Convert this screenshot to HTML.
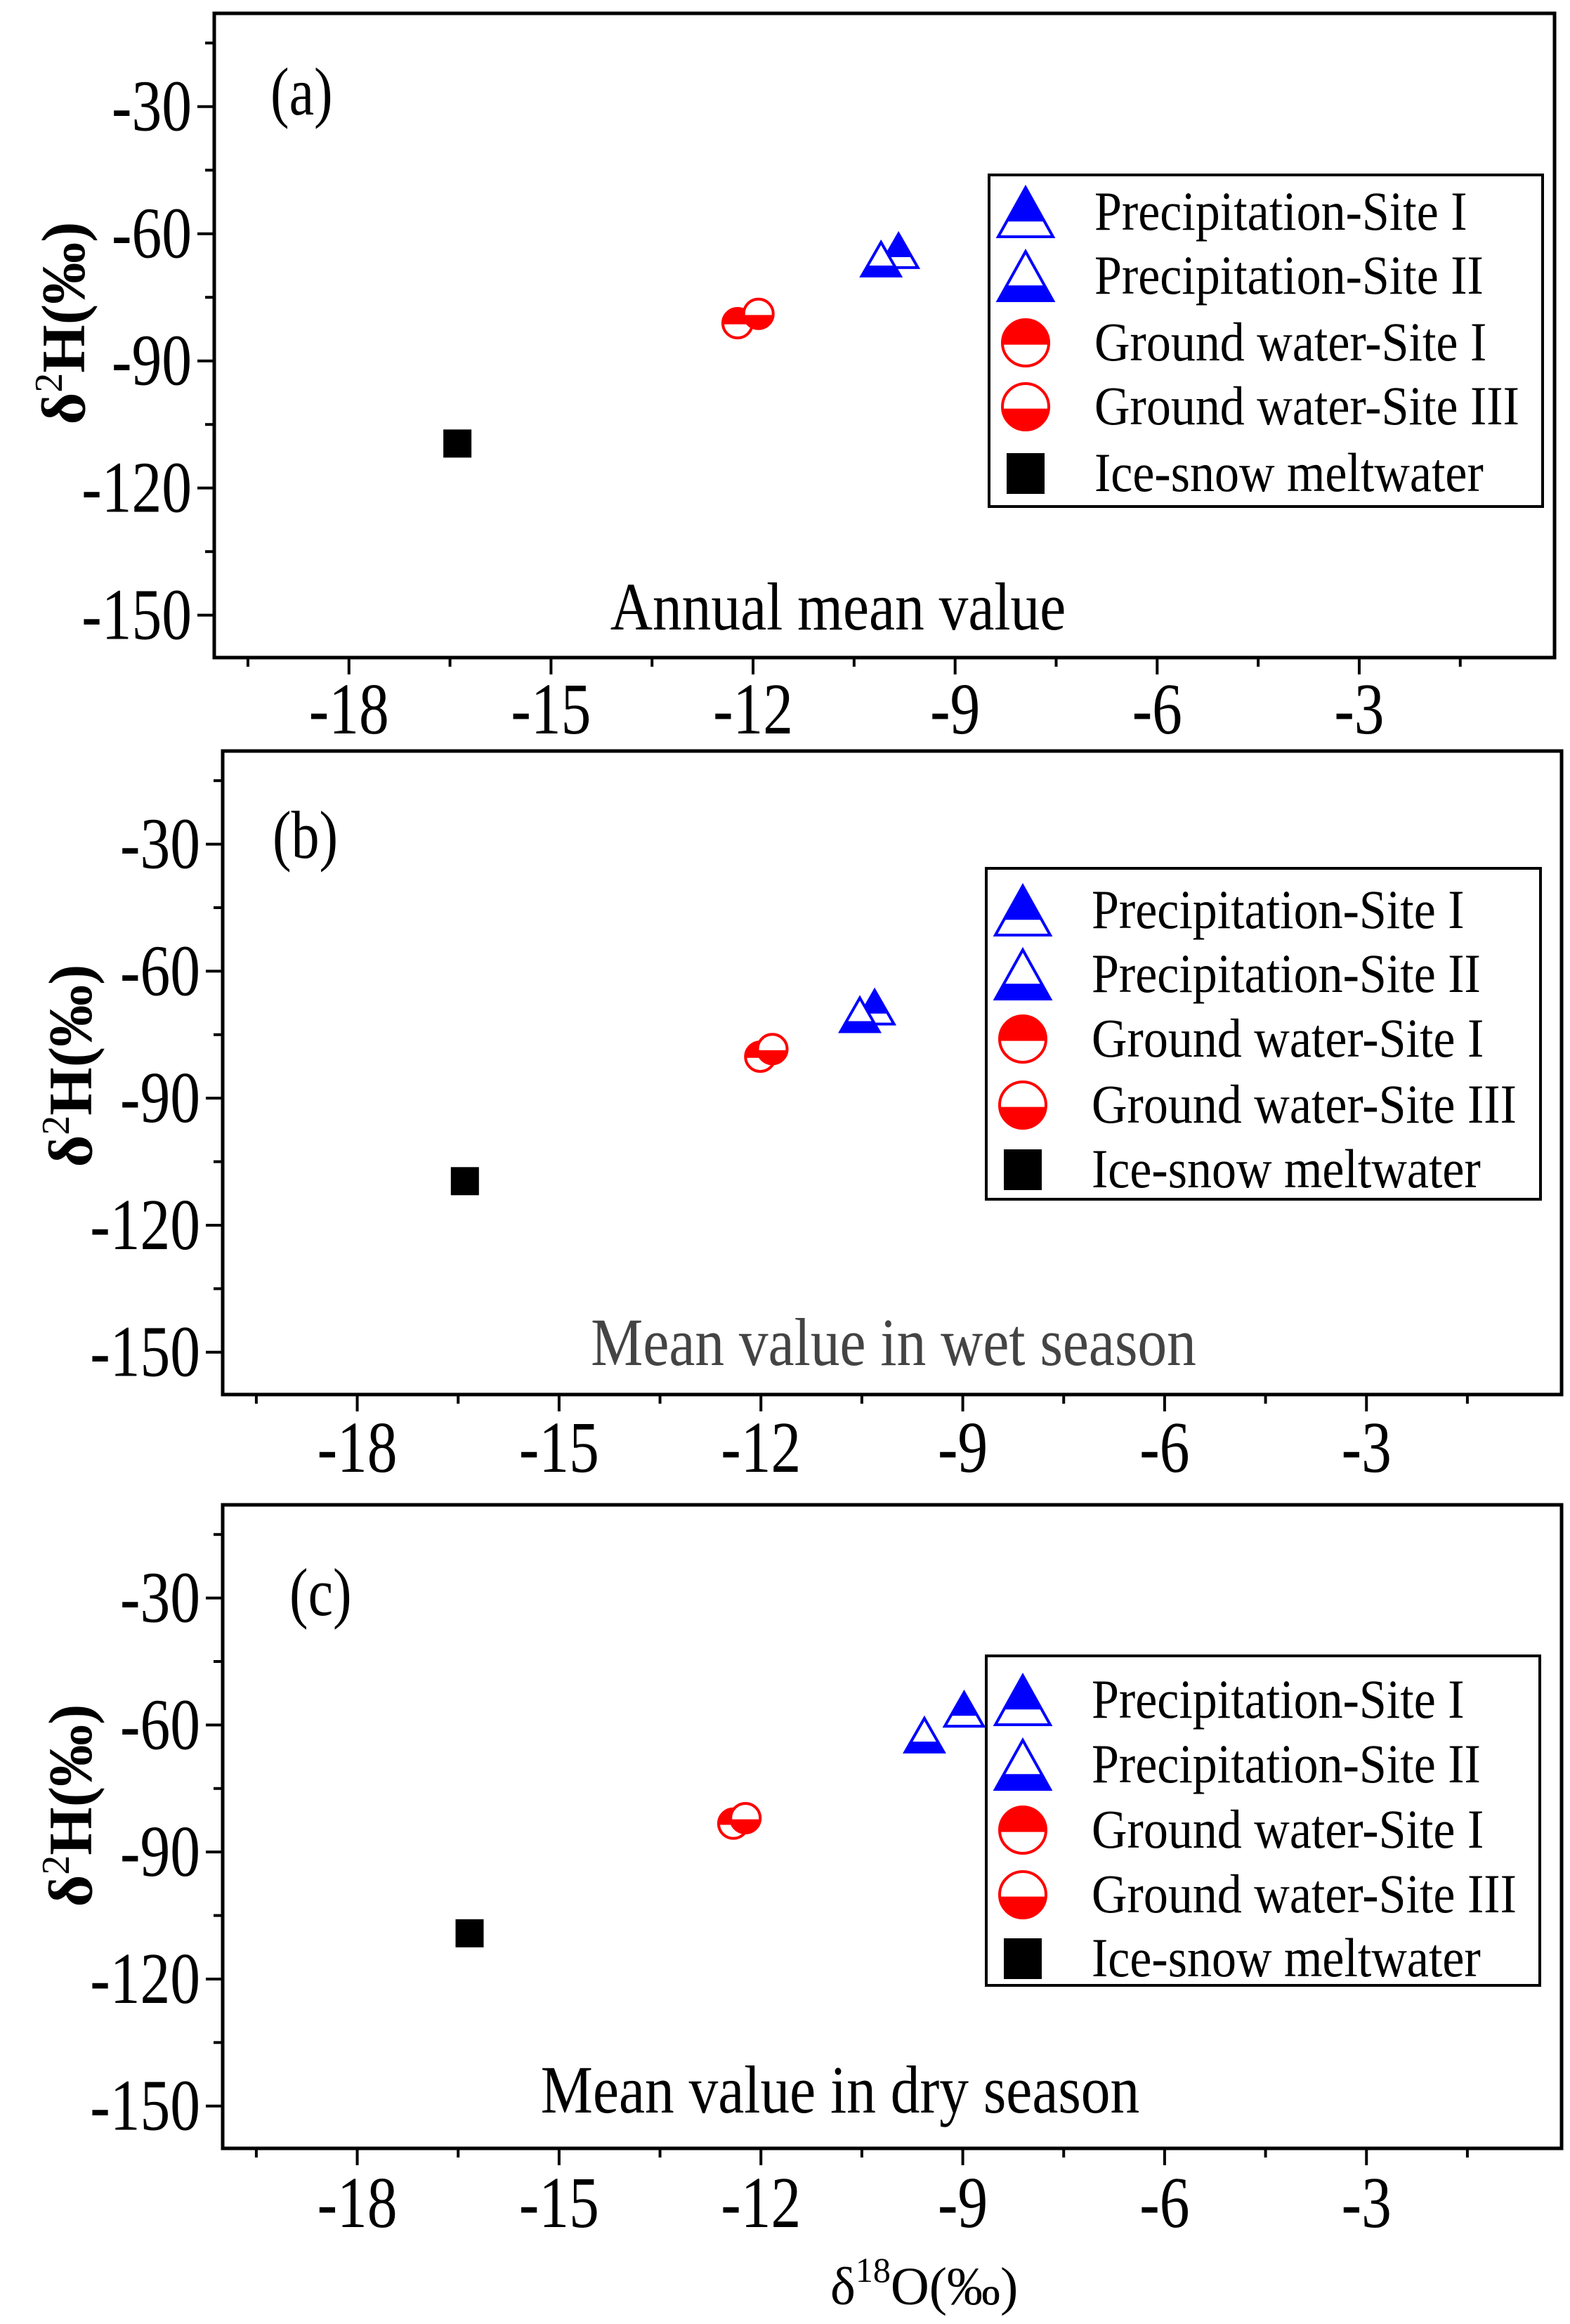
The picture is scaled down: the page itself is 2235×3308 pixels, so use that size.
<!DOCTYPE html>
<html><head><meta charset="utf-8"><style>
html,body{margin:0;padding:0;background:#fff}
svg{display:block}
text{font-family:"Liberation Serif",serif}
</style></head><body>
<svg id="chart" width="2235" height="3308" viewBox="0 0 2235 3308" xmlns="http://www.w3.org/2000/svg"></svg>
<script>
// ---- data ----
const xTicks = [-18, -15, -12, -9, -6, -3];
const xMinorTicks = [-19.5, -16.5, -13.5, -10.5, -7.5, -4.5, -1.5];
const yTicks = [-30, -60, -90, -120, -150];
const yMinorTicks = [-15, -45, -75, -105, -135];
const seriesNames = ["Precipitation-Site I", "Precipitation-Site II", "Ground water-Site I", "Ground water-Site III", "Ice-snow meltwater"];
const panelLabels = ["(a)", "(b)", "(c)"];
const panelCaptions = ["Annual mean value", "Mean value in wet season", "Mean value in dry season"];
const annualX = [-9.84, -10.10, -12.23, -11.92, -16.39];
const annualY = [-64.0, -66.0, -81.1, -78.9, -109.5];
const wetX = [-10.31, -10.53, -12.01, -11.83, -16.40];
const wetY = [-68.5, -70.3, -80.2, -78.4, -109.6];
const dryX = [-8.98, -9.57, -12.41, -12.23, -16.33];
const dryY = [-56.3, -62.4, -83.3, -82.0, -109.2];

// ---- layout ----
const NS = "http://www.w3.org/2000/svg";
const svg = document.getElementById("chart");
const X_MIN = -20, X_MAX = -0.1, Y_MIN = -160, Y_MAX = -8;
const panels = [
  {left:305, right:2213, top:19, bottom:936, xs:annualX, ys:annualY, leg:[1408,249,2196,721], rows:[302,393,488,579,674], lab:[385,133], cap:[1193,863], capColor:"#000", tickY:1010, titleX:90, titleY:460},
  {left:317, right:2223, top:1069, bottom:1985, xs:wetX, ys:wetY, leg:[1404,1236,2193,1707], rows:[1296,1387,1479,1573,1665], lab:[388,1191], capColor:"#444", cap:[1272,1910], tickY:2061, titleX:100, titleY:1517},
  {left:317, right:2223, top:2142, bottom:3058, xs:dryX, ys:dryY, leg:[1404,2357,2192,2826], rows:[2420,2512,2605,2697,2788], lab:[412,2269], capColor:"#000", cap:[1196,2974], tickY:3136, titleX:100, titleY:2570}
];
function el(tag, attrs, parent){
  const e = document.createElementNS(NS, tag);
  for (const k in attrs) e.setAttribute(k, attrs[k]);
  (parent||svg).appendChild(e);
  return e;
}
function tri(g, cx, cy, w, h, filledTop, name){
  const ax = cx, ay = cy - h/2, by = cy + h/2;
  const f = 0.69, sy = ay + h*f, hw = w/2*f;
  const outer = el("polygon", {points:`${ax},${ay} ${cx+w/2},${by} ${cx-w/2},${by}`, fill:"#fff", stroke:"#0000ff", "stroke-width":4}, g);
  
  
  if (filledTop) el("polygon", {points:`${ax},${ay} ${cx+hw},${sy} ${cx-hw},${sy}`, fill:"#0000ff"}, g);
  else el("polygon", {points:`${cx-hw},${sy} ${cx+hw},${sy} ${cx+w/2},${by} ${cx-w/2},${by}`, fill:"#0000ff"}, g);
}
function circ(g, cx, cy, r, filledTop, name){
  const c = el("circle", {cx:cx, cy:cy, r:r, fill:"#fff", stroke:"#ff0000", "stroke-width":4}, g);
  
  
  const sy = cy + r*0.08;
  const dx = Math.sqrt(r*r - (sy-cy)*(sy-cy));
  if (filledTop) el("path", {d:`M${cx-dx},${sy} A${r},${r} 0 1 1 ${cx+dx},${sy} Z`, fill:"#ff0000"}, g);
  else el("path", {d:`M${cx-dx},${sy} A${r},${r} 0 0 0 ${cx+dx},${sy} Z`, fill:"#ff0000"}, g);
}
function marker(g, i, cx, cy, big, name){
  if (i === 0) tri(g, cx, cy, big?78:55, big?70:48, true, name);
  else if (i === 1) tri(g, cx, cy, big?78:55, big?70:48, false, name);
  else if (i === 2) circ(g, cx, cy, big?33:21, true, name);
  else if (i === 3) circ(g, cx, cy, big?33:21, false, name);
  else {
    const s = big?54:40, hh = big?58:40;
    const r = el("rect", {x:cx-s/2, y:cy-hh/2, width:s, height:hh, fill:"#000"}, g);
    
    
  }
}
panels.forEach((p, pi) => {
  const g = el("g", {});
  
  
  const sx = v => p.left + (v - X_MIN) / (X_MAX - X_MIN) * (p.right - p.left);
  const sy = v => p.top + (Y_MAX - v) / (Y_MAX - Y_MIN) * (p.bottom - p.top);
  const box = el("rect", {x:p.left, y:p.top, width:p.right-p.left, height:p.bottom-p.top, fill:"none", stroke:"#000", "stroke-width":5}, g);
  
  
  xTicks.forEach(v => {
    el("line", {x1:sx(v), x2:sx(v), y1:p.bottom, y2:p.bottom+24, stroke:"#000", "stroke-width":4}, g);
    const t = el("text", {x:0, y:0, "font-size":90, "text-anchor":"middle", transform:`translate(${sx(v)},${p.tickY+34}) scale(0.95,1.15)`}, g);
    t.textContent = v;
    
    
  });
  xMinorTicks.forEach(v => el("line", {x1:sx(v), x2:sx(v), y1:p.bottom, y2:p.bottom+13, stroke:"#000", "stroke-width":4}, g));
  yTicks.forEach(v => {
    el("line", {x1:p.left-24, x2:p.left, y1:sy(v), y2:sy(v), stroke:"#000", "stroke-width":4}, g);
    const t = el("text", {x:0, y:0, "font-size":90, "text-anchor":"end", transform:`translate(${p.left-32},${sy(v)+34}) scale(0.95,1.15)`}, g);
    t.textContent = v;
    
    
  });
  yMinorTicks.forEach(v => el("line", {x1:p.left-13, x2:p.left, y1:sy(v), y2:sy(v), stroke:"#000", "stroke-width":4}, g));
  const yt = el("text", {x:0, y:0, "font-size":88, "text-anchor":"middle", "font-weight":"bold", transform:`translate(${p.titleX+30},${p.titleY}) rotate(-90)`}, g);
  yt.innerHTML = 'δ<tspan dy="-32" font-size="56" font-weight="normal">2</tspan><tspan dy="32">H(‰)</tspan>';
  
  
  const lb = el("text", {x:0, y:0, "font-size":84, transform:`translate(${p.lab[0]},${p.lab[1]+30}) scale(0.95,1.15)`}, g);
  lb.textContent = panelLabels[pi];
  
  
  const cp = el("text", {x:0, y:0, "font-size":86, "text-anchor":"middle", fill:p.capColor, transform:`translate(${p.cap[0]},${p.cap[1]+33}) scale(0.97,1.12)`}, g);
  cp.textContent = panelCaptions[pi];
  
  
  for (let i = 0; i < seriesNames.length; i++) {
    marker(g, i, sx(p.xs[i]), sy(p.ys[i]), false, 'point-' + seriesNames[i].toLowerCase().replace(/[^a-z]+/g,'-'));
  }
  const lg = el("g", {}, g);
  
  
  el("rect", {x:p.leg[0], y:p.leg[1], width:p.leg[2]-p.leg[0], height:p.leg[3]-p.leg[1], fill:"#fff", stroke:"#000", "stroke-width":4}, lg);
  seriesNames.forEach((n, i) => {
    const ry = p.rows[i];
    marker(lg, i, p.leg[0]+52, ry, true, 'legend-marker');
    const t = el("text", {x:0, y:0, "font-size":70, transform:`translate(${p.leg[0]+150},${ry+25}) scale(1,1.12)`}, lg);
    t.textContent = n;
    
    
  });
});
const xt = el("text", {x:1182, y:3280, "font-size":76});
xt.innerHTML = 'δ<tspan dy="-32" font-size="50">18</tspan><tspan dy="32">O(‰)</tspan>';


</script>
</body></html>
